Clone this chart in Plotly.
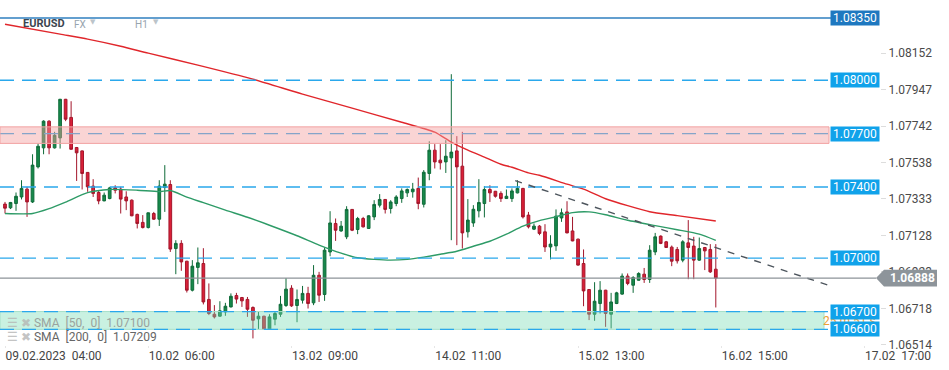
import plotly.graph_objects as go

# ---------------- data (EURUSD H1) ----------------
open_ = [1.07304, 1.07283, 1.07307, 1.07344, 1.07388, 1.07316, 1.07513, 1.07620, 1.07770, 1.07620,
         1.07676, 1.07893, 1.07791, 1.07622, 1.07603, 1.07482, 1.07405, 1.07369, 1.07322, 1.07335,
         1.07395, 1.07388, 1.07344, 1.07326, 1.07246, 1.07201, 1.07172, 1.07251, 1.07219, 1.07397,
         1.07414, 1.07054, 1.07083, 1.06983, 1.06820, 1.06948, 1.06970, 1.06768, 1.06685, 1.06674,
         1.06698, 1.06726, 1.06790, 1.06779, 1.06768, 1.06723, 1.06659, 1.06674, 1.06601, 1.06657,
         1.06685, 1.06734, 1.06831, 1.06734, 1.06764, 1.06802, 1.06749, 1.06904, 1.06796, 1.07035,
         1.07195, 1.07153, 1.07120, 1.07274, 1.07161, 1.07223, 1.07167, 1.07232, 1.07298, 1.07330,
         1.07279, 1.07307, 1.07335, 1.07367, 1.07373, 1.07392, 1.07303, 1.07476, 1.07607, 1.07551,
         1.07541, 1.07564, 1.07603, 1.07517, 1.07148, 1.07198, 1.07266, 1.07307, 1.07386, 1.07376,
         1.07364, 1.07335, 1.07335, 1.07367, 1.07392, 1.07242, 1.07163, 1.07180, 1.07148, 1.07063,
         1.07069, 1.07226, 1.07260, 1.07153, 1.07107, 1.06970, 1.06824, 1.06685, 1.06745, 1.06820,
         1.06685, 1.06745, 1.06798, 1.06899, 1.06848, 1.06876, 1.06910, 1.06880, 1.07035, 1.07124,
         1.07092, 1.07062, 1.07049, 1.06989, 1.07086, 1.07068, 1.06989, 1.07060, 1.07049, 1.06938]
high = [1.07316, 1.07316, 1.07369, 1.07438, 1.07401, 1.07584, 1.07645, 1.07775, 1.07775, 1.07710,
        1.07895, 1.07895, 1.07882, 1.07625, 1.07605, 1.07484, 1.07444, 1.07378, 1.07369, 1.07401,
        1.07410, 1.07401, 1.07376, 1.07330, 1.07250, 1.07242, 1.07256, 1.07260, 1.07438, 1.07523,
        1.07438, 1.07101, 1.07101, 1.06985, 1.06989, 1.07060, 1.07056, 1.06858, 1.06736, 1.06758,
        1.06749, 1.06802, 1.06805, 1.06782, 1.06782, 1.06729, 1.06698, 1.06676, 1.06685, 1.06698,
        1.06788, 1.06888, 1.06848, 1.06824, 1.06844, 1.06839, 1.06961, 1.06923, 1.07060, 1.07264,
        1.07223, 1.07209, 1.07292, 1.07276, 1.07232, 1.07232, 1.07242, 1.07326, 1.07360, 1.07332,
        1.07326, 1.07354, 1.07392, 1.07392, 1.07423, 1.07453, 1.07495, 1.07657, 1.07641, 1.07641,
        1.07663, 1.08034, 1.07686, 1.07710, 1.07332, 1.07298, 1.07444, 1.07405, 1.07410, 1.07378,
        1.07376, 1.07386, 1.07392, 1.07438, 1.07395, 1.07260, 1.07195, 1.07186, 1.07191, 1.07129,
        1.07274, 1.07279, 1.07320, 1.07232, 1.07110, 1.07049, 1.06826, 1.06865, 1.06871, 1.06822,
        1.06805, 1.06811, 1.06914, 1.06914, 1.06899, 1.06921, 1.06945, 1.07073, 1.07142, 1.07128,
        1.07097, 1.07071, 1.07063, 1.07101, 1.07214, 1.07120, 1.07116, 1.07063, 1.07079, 1.07079]
low = [1.07251, 1.07276, 1.07266, 1.07330, 1.07232, 1.07310, 1.07504, 1.07584, 1.07584, 1.07616,
       1.07616, 1.07770, 1.07610, 1.07434, 1.07386, 1.07373, 1.07344, 1.07303, 1.07320, 1.07331,
       1.07364, 1.07251, 1.07270, 1.07236, 1.07167, 1.07167, 1.07167, 1.07215, 1.07181, 1.07260,
       1.07035, 1.06910, 1.06929, 1.06807, 1.06813, 1.06854, 1.06740, 1.06680, 1.06661, 1.06672,
       1.06676, 1.06723, 1.06745, 1.06726, 1.06670, 1.06549, 1.06601, 1.06600, 1.06600, 1.06623,
       1.06670, 1.06726, 1.06726, 1.06640, 1.06745, 1.06717, 1.06736, 1.06754, 1.06760, 1.07011,
       1.07097, 1.07148, 1.07107, 1.07152, 1.07135, 1.07172, 1.07164, 1.07214, 1.07285, 1.07251,
       1.07251, 1.07292, 1.07311, 1.07344, 1.07340, 1.07275, 1.07285, 1.07438, 1.07504, 1.07498,
       1.07479, 1.07101, 1.07073, 1.07054, 1.07116, 1.07176, 1.07229, 1.07229, 1.07316, 1.07340,
       1.07316, 1.07333, 1.07316, 1.07364, 1.07223, 1.07167, 1.07158, 1.07129, 1.07035, 1.06993,
       1.07041, 1.07204, 1.07140, 1.07095, 1.06958, 1.06730, 1.06652, 1.06648, 1.06689, 1.06614,
       1.06605, 1.06742, 1.06794, 1.06848, 1.06805, 1.06874, 1.06861, 1.06861, 1.07017, 1.07079,
       1.07057, 1.06955, 1.06970, 1.06977, 1.06882, 1.06882, 1.06985, 1.06933, 1.06917, 1.06723]
close = [1.07281, 1.07313, 1.07348, 1.07392, 1.07316, 1.07523, 1.07629, 1.07770, 1.07620, 1.07691,
         1.07893, 1.07781, 1.07612, 1.07592, 1.07476, 1.07401, 1.07364, 1.07322, 1.07354, 1.07395,
         1.07382, 1.07332, 1.07322, 1.07238, 1.07195, 1.07172, 1.07255, 1.07219, 1.07405, 1.07416,
         1.07051, 1.07083, 1.06979, 1.06820, 1.06955, 1.06974, 1.06754, 1.06689, 1.06670, 1.06704,
         1.06730, 1.06786, 1.06770, 1.06760, 1.06713, 1.06651, 1.06674, 1.06601, 1.06670, 1.06689,
         1.06741, 1.06826, 1.06732, 1.06768, 1.06802, 1.06745, 1.06904, 1.06792, 1.07045, 1.07198,
         1.07157, 1.07180, 1.07274, 1.07157, 1.07223, 1.07176, 1.07238, 1.07302, 1.07330, 1.07274,
         1.07316, 1.07344, 1.07378, 1.07386, 1.07388, 1.07307, 1.07483, 1.07607, 1.07541, 1.07536,
         1.07573, 1.07596, 1.07513, 1.07142, 1.07214, 1.07275, 1.07313, 1.07386, 1.07367, 1.07348,
         1.07335, 1.07348, 1.07378, 1.07392, 1.07232, 1.07176, 1.07180, 1.07139, 1.07063, 1.07079,
         1.07236, 1.07255, 1.07142, 1.07097, 1.06961, 1.06816, 1.06685, 1.06758, 1.06820, 1.06689,
         1.06754, 1.06805, 1.06899, 1.06858, 1.06891, 1.06914, 1.06880, 1.07045, 1.07120, 1.07083,
         1.07060, 1.06983, 1.06985, 1.07092, 1.07060, 1.06989, 1.07054, 1.07041, 1.06923, 1.06888]
bars = list(range(len(close)))  # H1 bar index, 0 = 09.02.2023 04:00

sma50_bar = [0, 5, 8, 11, 15, 19, 24, 28, 30, 33, 36, 40, 44, 48, 53, 57, 61, 64, 67, 70, 73, 76, 79,
             82, 85, 88, 91, 94, 97, 100, 103, 106, 109, 113, 118, 122, 126, 129]
sma50_val = [1.07251, 1.07251, 1.07278, 1.07315, 1.07368, 1.07386, 1.07382, 1.07374, 1.07380, 1.07343,
             1.07312, 1.07270, 1.07230, 1.07185, 1.07126, 1.07073, 1.07028, 1.07002, 1.06993, 1.06989,
             1.06993, 1.07006, 1.07022, 1.07039, 1.07067, 1.07095, 1.07135, 1.07180, 1.07211, 1.07233,
             1.07256, 1.07260, 1.07244, 1.07213, 1.07183, 1.07160, 1.07135, 1.07100]
sma200_bar = [0, 10, 15, 21, 26, 35, 45, 54, 63, 72, 78, 81, 84, 87, 90, 92, 95, 97, 102, 105, 109,
              113, 117, 122, 129]
sma200_val = [1.08315, 1.08259, 1.08231, 1.08191, 1.08152, 1.08085, 1.08006, 1.07922, 1.07843, 1.07764,
              1.07708, 1.07652, 1.07607, 1.07568, 1.07528, 1.07511, 1.07479, 1.07466, 1.07416, 1.07388,
              1.07334, 1.07295, 1.07261, 1.07239, 1.07209]

tick_bars = [0, 26, 52, 78, 104, 130, 156]
tick_labels = ["09.02.2023\u00a0\u00a004:00", "10.02\u00a0\u00a006:00", "13.02\u00a0\u00a009:00",
               "14.02\u00a0\u00a011:00", "15.02\u00a0\u00a013:00", "16.02\u00a0\u00a015:00",
               "17.02\u00a0\u00a017:00"]
price_ticks = [1.08152, 1.07947, 1.07742, 1.07538, 1.07333, 1.07128, 1.06923, 1.06718, 1.06514]

level_top = 1.08350
levels_dashed = [1.08000, 1.07700, 1.07400, 1.07000]
levels_zone_edges = [1.06700, 1.06600]
resist_zone = [1.07645, 1.07738]
support_zone = [1.06600, 1.06700]
last_price = 1.06888
trend_bar = [92.6, 149.4]
trend_price = [1.07436, 1.06848]

# ---------------- styling ----------------
FONT = "Roboto"
BLUE_DASH = "#2aa8ec"
BOX_BLUE = "#10a2ea"

fig = go.Figure()

fig.add_trace(go.Candlestick(
    x=bars, open=open_, high=high, low=low, close=close,
    increasing=dict(line=dict(color="#0f6b39", width=1), fillcolor="#17894b"),
    decreasing=dict(line=dict(color="#a3162b", width=1), fillcolor="#da2038"),
    showlegend=False, hoverinfo="skip"))

fig.add_trace(go.Scatter(x=sma50_bar, y=sma50_val, mode="lines",
                         line=dict(color="#2e9b67", width=1.4, shape="spline", smoothing=0.6),
                         showlegend=False, hoverinfo="skip"))
fig.add_trace(go.Scatter(x=sma200_bar, y=sma200_val, mode="lines",
                         line=dict(color="#e0262b", width=1.4, shape="spline", smoothing=0.6),
                         showlegend=False, hoverinfo="skip"))

LINE_END = 833 / 880
shapes = []
shapes.append(dict(type="line", xref="paper", yref="y", x0=0, x1=LINE_END, y0=level_top, y1=level_top,
                   line=dict(color="#2f7fbf", width=1.5), layer="above"))
for lv in levels_dashed:
    shapes.append(dict(type="line", xref="paper", yref="y", x0=0, x1=LINE_END, y0=lv, y1=lv,
                       line=dict(color=BLUE_DASH, width=1.3, dash="14px,8px"), layer="above"))
shapes.append(dict(type="rect", xref="paper", yref="y", x0=0, x1=829 / 880,
                   y0=resist_zone[0], y1=resist_zone[1],
                   fillcolor="rgba(245,160,160,0.45)", line=dict(color="#f2a3a3", width=1), layer="above"))
shapes.append(dict(type="rect", xref="paper", yref="y", x0=0, x1=824 / 880,
                   y0=support_zone[0], y1=support_zone[1],
                   fillcolor="rgba(120,220,180,0.40)", line=dict(color="#a6dfc8", width=1), layer="above"))
for lv in levels_zone_edges:
    shapes.append(dict(type="line", xref="paper", yref="y", x0=0, x1=LINE_END, y0=lv, y1=lv,
                       line=dict(color=BLUE_DASH, width=1.3, dash="14px,8px"), layer="above"))
# trend line
shapes.append(dict(type="line", xref="x", yref="y", x0=trend_bar[0], x1=trend_bar[1],
                   y0=trend_price[0], y1=trend_price[1],
                   line=dict(color="#4d555d", width=1.4, dash="7px,7px"), layer="above"))
# current price line + arrow label
shapes.append(dict(type="line", xref="paper", yref="y", x0=0, x1=876 / 880, y0=last_price, y1=last_price,
                   line=dict(color="#8d9399", width=1.4), layer="above"))
shapes.append(dict(type="path", xref="paper", yref="y", xsizemode="pixel", ysizemode="pixel",
                   xanchor=1, yanchor=last_price,
                   path="M -4,0 L 4,8.3 L 57,8.3 L 57,-8.3 L 4,-8.3 Z",
                   fillcolor="#8d949a", line=dict(width=0), layer="above"))

annotations = []
# header
annotations.append(dict(xref="paper", yref="paper", x=21 / 880, y=0.980, xanchor="left", yanchor="middle",
                        text="<b>EURUSD</b>", showarrow=False, font=dict(family=FONT, size=11, color="#3c4650")))
annotations.append(dict(xref="paper", yref="paper", x=72 / 880, y=0.978, xanchor="left", yanchor="middle",
                        text="FX", showarrow=False, font=dict(family=FONT, size=10, color="#98a4ae")))
annotations.append(dict(xref="paper", yref="paper", x=88 / 880, y=0.985, xanchor="left", yanchor="middle",
                        text="▼", showarrow=False, font=dict(family="DejaVu Sans", size=7, color="#bcc4ca")))
annotations.append(dict(xref="paper", yref="paper", x=133 / 880, y=0.978, xanchor="left", yanchor="middle",
                        text="H1", showarrow=False, font=dict(family=FONT, size=10, color="#98a4ae")))
annotations.append(dict(xref="paper", yref="paper", x=151 / 880, y=0.985, xanchor="left", yanchor="middle",
                        text="▼", showarrow=False, font=dict(family="DejaVu Sans", size=7, color="#bcc4ca")))
# SMA legend
annotations.append(dict(xref="paper", yref="paper", x=5 / 880, y=0.067, xanchor="left", yanchor="middle",
                        text="<span style='color:#b9c2bd'>☰ ✖</span> SMA\u00a0\u00a0[50,\u00a0\u00a00]\u00a0\u00a01.07100",
                        showarrow=False, font=dict(family=FONT, size=12, color="#9aa39e")))
annotations.append(dict(xref="paper", yref="paper", x=5 / 880, y=0.0244, xanchor="left", yanchor="middle",
                        text="<span style='color:#c4c4c4'>☰ ✖</span> SMA\u00a0\u00a0[200,\u00a0\u00a00]\u00a0\u00a01.07209",
                        showarrow=False, font=dict(family=FONT, size=12, color="#666666")))
# countdown (mostly hidden under price boxes)
annotations.append(dict(xref="paper", yref="y", x=821 / 880, y=1.06645, xanchor="left", yanchor="middle",
                        text="25 m 51 s", showarrow=False, font=dict(family=FONT, size=12, color="#f0a033")))
# price boxes
box_levels = [level_top] + levels_dashed + levels_zone_edges
for lv in box_levels:
    annotations.append(dict(xref="paper", yref="y", x=1, y=lv, xanchor="right", yanchor="middle",
                            text=f"{lv:.5f}", showarrow=False, width=46, height=12, borderpad=1,
                            bgcolor="#1e78c0" if lv == level_top else BOX_BLUE,
                            font=dict(family=FONT, size=12, color="white")))
annotations.append(dict(xref="paper", yref="y", x=1, y=last_price, xanchor="left", yanchor="middle",
                        xshift=8, text=f"<b>{last_price:.5f}</b>", showarrow=False,
                        font=dict(family=FONT, size=12, color="white")))

fig.update_layout(
    width=949, height=370,
    margin=dict(l=0, r=69, t=17, b=25),
    paper_bgcolor="white", plot_bgcolor="white",
    font=dict(family=FONT, size=12, color="#444"),
    shapes=shapes, annotations=annotations,
    showlegend=False,
    xaxis=dict(range=[-0.907, 158.8], tickvals=tick_bars, ticktext=tick_labels,
               ticklabelposition="outside right", showgrid=False, zeroline=False, showline=False,
               ticks="outside", ticklen=2, tickcolor="#e6e6e6",
               tickfont=dict(family=FONT, size=12, color="#444"),
               rangeslider=dict(visible=False), fixedrange=True),
    yaxis=dict(range=[1.06512, 1.083554], side="right", tickvals=price_ticks,
               ticktext=[f"{v:.5f}" for v in price_ticks], showgrid=False, zeroline=False,
               showline=False, ticks="outside", ticklen=5, tickcolor="#dddddd",
               tickfont=dict(family=FONT, size=12, color="#4a4a4a"), fixedrange=True),
)

fig.write_html("out.html", config={"displayModeBar": False},
               post_script="document.body.style.margin='0px';document.body.style.padding='0px';")
